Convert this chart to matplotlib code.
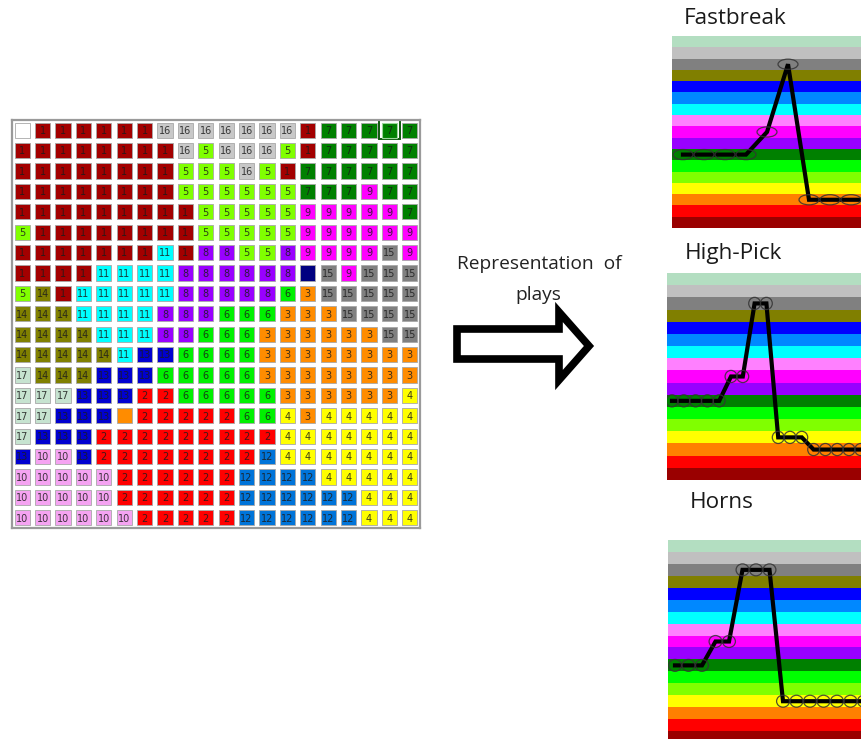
import matplotlib
matplotlib.use('Agg')
import matplotlib.pyplot as plt
from matplotlib.patches import Rectangle, Ellipse, Polygon

W, H = 861, 739

# ---------------- data ----------------
# cluster id of each cell of the 20x20 map (0 = empty, negative = unlabeled cell)
grid_rows = [
    [0, 1, 1, 1, 1, 1, 1, 16, 16, 16, 16, 16, 16, 16, 1, 7, 7, 7, 7, 7],
    [1, 1, 1, 1, 1, 1, 1, 1, 16, 5, 16, 16, 16, 5, 1, 7, 7, 7, 7, 7],
    [1, 1, 1, 1, 1, 1, 1, 1, 5, 5, 5, 16, 5, 1, 7, 7, 7, 7, 7, 7],
    [1, 1, 1, 1, 1, 1, 1, 1, 5, 5, 5, 5, 5, 5, 7, 7, 7, 9, 7, 7],
    [1, 1, 1, 1, 1, 1, 1, 1, 1, 5, 5, 5, 5, 5, 9, 9, 9, 9, 9, 7],
    [5, 1, 1, 1, 1, 1, 1, 1, 1, 5, 5, 5, 5, 5, 9, 9, 9, 9, 9, 9],
    [1, 1, 1, 1, 1, 1, 1, 11, 1, 8, 8, 5, 5, 8, 9, 9, 9, 9, 15, 9],
    [1, 1, 1, 1, 11, 11, 11, 11, 8, 8, 8, 8, 8, 8, -13, 15, 9, 15, 15, 15],
    [5, 14, 1, 11, 11, 11, 11, 11, 8, 8, 8, 8, 8, 6, 3, 15, 15, 15, 15, 15],
    [14, 14, 14, 11, 11, 11, 11, 8, 8, 8, 6, 6, 6, 3, 3, 3, 15, 15, 15, 15],
    [14, 14, 14, 14, 11, 11, 11, 8, 8, 6, 6, 6, 3, 3, 3, 3, 3, 3, 15, 15],
    [14, 14, 14, 14, 14, 11, 13, 13, 6, 6, 6, 6, 3, 3, 3, 3, 3, 3, 3, 3],
    [17, 14, 14, 14, 13, 13, 13, 6, 6, 6, 6, 6, 3, 3, 3, 3, 3, 3, 3, 3],
    [17, 17, 17, 13, 13, 13, 2, 2, 6, 6, 6, 6, 6, 3, 3, 3, 3, 3, 3, 4],
    [17, 17, 13, 13, 13, -3, 2, 2, 2, 2, 2, 6, 6, 4, 3, 4, 4, 4, 4, 4],
    [17, 13, 13, 13, 2, 2, 2, 2, 2, 2, 2, 2, 2, 4, 4, 4, 4, 4, 4, 4],
    [13, 10, 10, 13, 2, 2, 2, 2, 2, 2, 2, 2, 12, 4, 4, 4, 4, 4, 4, 4],
    [10, 10, 10, 10, 10, 2, 2, 2, 2, 2, 2, 12, 12, 12, 12, 4, 4, 4, 4, 4],
    [10, 10, 10, 10, 10, 2, 2, 2, 2, 2, 2, 12, 12, 12, 12, 12, 12, 4, 4, 4],
    [10, 10, 10, 10, 10, 10, 2, 2, 2, 2, 2, 12, 12, 12, 12, 12, 12, 4, 4, 4],
]
highlight_cell = (0, 18)

# sequences of clusters visited by each play
fastbreak_seq = [7, 7, 7, 7, 9, 15, 3, 3, 3, 3]
highpick_seq = [7, 7, 7, 7, 7, 9, 9, 15, 15, 4, 4, 4, 3, 3, 3, 3, 3, 3]
horns_seq = [7, 7, 7, 9, 9, 15, 15, 15, 4, 4, 4, 4, 4, 4, 4, 4]

play_titles = ["Fastbreak", "High-Pick", "Horns"]

# colours of clusters 1..17
cell_colors = {
    1: '#A30000', 2: '#FF0000', 3: '#FF8C00', 4: '#FFFF00', 5: '#80FF00',
    6: '#00F000', 7: '#008000', 8: '#9900FF', 9: '#FF00FF', 10: '#F5A3F2',
    11: '#00FFFF', 12: '#0074D9', 13: '#0000D0', 14: '#808000', 15: '#808080',
    16: '#C8C8C8', 17: '#C6E3D0', -13: '#000080', -3: '#FF8C00',
}
band_colors = {
    1: '#9A0000', 2: '#FF0000', 3: '#FF8000', 4: '#FFFF00', 5: '#80FF00',
    6: '#00FF00', 7: '#008000', 8: '#9900FF', 9: '#FF00FF', 10: '#FF80FF',
    11: '#00FFFF', 12: '#0088FF', 13: '#0000FF', 14: '#807F00', 15: '#808080',
    16: '#C0C0C0', 17: '#B3DEC1',
}

FONT = ['Open Sans', 'DejaVu Sans']
CELLFONT = ['DejaVu Sans']

fig = plt.figure(figsize=(W / 100, H / 100), dpi=100)
fig.patch.set_facecolor('white')


def px_axes(x0, y0, x1, y1, **kw):
    return fig.add_axes([x0 / W, 1 - y1 / H, (x1 - x0) / W, (y1 - y0) / H], **kw)


# ---------------- grid (map) ----------------
ax = px_axes(12, 120, 420, 528)
ax.set_xlim(-0.5, 19.5)
ax.set_ylim(19.5, -0.5)
ax.set_xticks([])
ax.set_yticks([])
for s in ax.spines.values():
    s.set_color('#9a9a9a')
    s.set_linewidth(1.6)
sq = 0.75
for r, row in enumerate(grid_rows):
    for c, v in enumerate(row):
        if v == 0:
            fc, lab = 'white', ''
        else:
            fc = cell_colors[v]
            lab = str(v) if v > 0 else ''
        ax.add_patch(Rectangle((c - sq / 2, r - sq / 2), sq, sq, facecolor=fc,
                               edgecolor='#a8a8a8', linewidth=0.6))
        if lab:
            ax.text(c, r + 0.04, lab, ha='center', va='center', fontsize=7,
                    color='#1c1c1c', alpha=0.85, family=CELLFONT)
hr, hc = highlight_cell
ax.add_patch(Rectangle((hc - 0.5, hr - 0.55), 1.0, 0.98, fill=False,
                       edgecolor='#0d5a0d', linewidth=1.4))
ax.add_patch(Rectangle((hc - sq / 2, hr - sq / 2), sq, sq, fill=False,
                       edgecolor='#9ad49a', linewidth=0.8))

# ---------------- arrow + text ----------------
ov = px_axes(0, 0, W, H)
ov.set_xlim(0, W)
ov.set_ylim(H, 0)
ov.axis('off')
ov.patch.set_alpha(0)
arrow_pts = [(457, 329), (559, 329), (559, 312), (589, 346), (559, 380), (559, 359), (457, 359)]
ov.add_patch(Polygon(arrow_pts, closed=True, facecolor='white', edgecolor='black',
                     linewidth=5.5, joinstyle='miter'))
ov.text(539, 264, "Representation  of", ha='center', va='center', fontsize=13.8,
        family=FONT, color='#222222')
ov.text(538, 295, "plays", ha='center', va='center', fontsize=13.8,
        family=FONT, color='#222222')


# ---------------- play panels ----------------
def panel(box, start_px, step_px, seq, ew, eh):
    x0, y0, x1, y1 = box
    a = px_axes(x0, y0, x1, y1)
    a.set_xlim((x0 - start_px) / step_px, (x1 - start_px) / step_px)
    a.set_ylim(0.5, 17.5)
    a.axis('off')
    for k in range(1, 18):
        a.axhspan(k - 0.5, k + 0.5, color=band_colors[k], linewidth=0)
    xs = list(range(len(seq)))
    a.plot(xs, seq, color='black', linewidth=3.0, solid_joinstyle='miter', zorder=3)
    for i, v in zip(xs, seq):
        a.add_patch(Ellipse((i, v), ew, eh, fill=False, edgecolor='#333333',
                            linewidth=0.9, alpha=0.85, zorder=4))
    return a


panel((672, 36, 861, 228), 683, 21.0, fastbreak_seq, 0.95, 0.9)
panel((667, 273, 861, 480), 672, 11.8, highpick_seq, 1.0, 1.0)
panel((668, 540, 861, 743), 675, 13.5, horns_seq, 0.95, 1.0)

fig.text(684 / W, 1 - 18 / H, play_titles[0], ha='left', va='center', fontsize=16.2,
         family=FONT, color='#1a1a1a')
fig.text(685 / W, 1 - 254 / H, play_titles[1], ha='left', va='center', fontsize=16.2,
         family=FONT, color='#1a1a1a')
fig.text(690 / W, 1 - 503 / H, play_titles[2], ha='left', va='center', fontsize=16.2,
         family=FONT, color='#1a1a1a')

fig.savefig('out.png', dpi=100)
